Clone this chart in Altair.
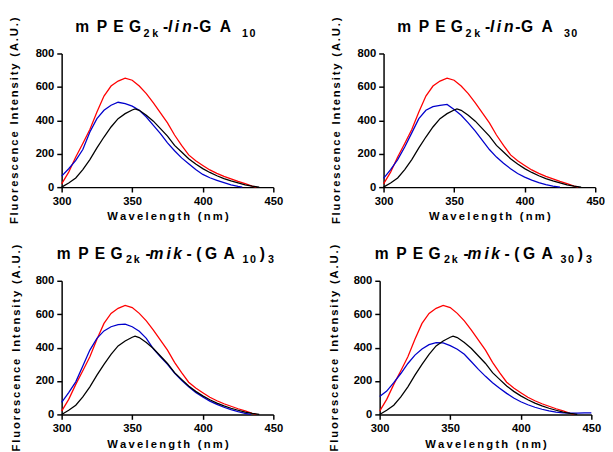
import altair as alt
import pandas as pd

# ---------------- data ----------------
RED_WL = [300, 305, 310, 315, 320, 325, 330, 335, 340, 345, 350, 355, 360, 365, 370,
          375, 380, 385, 390, 395, 400, 405, 410, 415, 420, 425, 430, 435, 438]
RED_I = [20, 90, 180, 261, 345, 450, 545, 605, 635, 652, 640, 605, 560, 505, 445,
         385, 312, 250, 193, 158, 130, 103, 82, 64, 49, 34, 21, 6, 0]

BLACK_WL = [300, 305, 310, 315, 320, 325, 330, 335, 340, 345, 350, 352, 355, 360, 365,
            370, 375, 380, 385, 390, 395, 400, 405, 410, 415, 420, 425, 430, 435, 440]
BLACK_I = [0, 25, 55, 105, 165, 235, 300, 360, 410, 440, 462, 468, 460, 430, 395,
           350, 305, 250, 210, 170, 138, 111, 88, 68, 51, 37, 25, 14, 6, 0]

BLUE1_WL = [300, 305, 310, 315, 320, 325, 330, 335, 340, 345, 350, 355, 360, 365, 370,
            375, 380, 385, 390, 395, 400, 405, 410, 415, 420, 425, 428]
BLUE1_I = [66, 110, 160, 225, 330, 410, 460, 490, 508, 500, 485, 460, 420, 370, 320,
           265, 218, 175, 140, 105, 76, 56, 41, 27, 14, 4, 0]

BLUE2_WL = [300, 305, 310, 315, 320, 325, 330, 335, 340, 345, 350, 355, 360, 365, 370,
            375, 380, 385, 390, 395, 400, 405, 410, 415, 420, 425]
BLUE2_I = [53, 105, 165, 240, 325, 410, 460, 482, 490, 495, 465, 430, 385, 335, 280,
           225, 180, 143, 110, 82, 60, 42, 27, 15, 6, 0]

BLUE3_WL = [300, 305, 310, 315, 320, 325, 330, 335, 340, 345, 350, 355, 360, 365, 370,
            375, 380, 385, 390, 395, 400, 405, 410, 415, 420, 425, 430, 434]
BLUE3_I = [72, 130, 195, 290, 385, 455, 500, 525, 538, 540, 525, 498, 455, 392, 345,
           300, 248, 205, 165, 132, 104, 80, 60, 43, 29, 17, 7, 0]

BLUE4_WL = [300, 305, 310, 315, 320, 325, 330, 335, 340, 345, 350, 355, 360, 365, 370,
            375, 380, 385, 390, 395, 400, 405, 410, 415, 420, 425, 430, 435, 440, 445, 450]
BLUE4_I = [108, 140, 190, 245, 305, 355, 392, 418, 430, 428, 412, 390, 360, 315, 270,
           228, 190, 157, 126, 98, 76, 58, 43, 31, 21, 14, 10, 8, 8, 9, 10]

X_TICKS = [300, 350, 400, 450]
Y_TICKS = [0, 200, 400, 600, 800]
X_TITLE = "Wavelength (nm)"
Y_TITLE = "Fluorescence Intensity (A.U.)"

# titles: (text, kind) pieces; each character is placed on its own
TITLE1 = [("mPEG", "main"), ("2k", "sub"), ("-", "main"), ("lin", "ital"), ("-", "main"),
          ("GA", "main"), ("10", "sub")]
TITLE2 = [("mPEG", "main"), ("2k", "sub"), ("-", "main"), ("lin", "ital"), ("-", "main"),
          ("GA", "main"), ("30", "sub")]
TITLE3 = [("mPEG", "main"), ("2k", "sub"), ("-", "main"), ("mik", "ital"), ("-", "main"),
          ("(", "main"), ("GA", "main"), ("10", "sub"), (")", "main"), ("3", "sub")]
TITLE4 = [("mPEG", "main"), ("2k", "sub"), ("-", "main"), ("mik", "ital"), ("-", "main"),
          ("(", "main"), ("GA", "main"), ("30", "sub"), (")", "main"), ("3", "sub")]

# layout: x offset of every character from the plot-area left edge
XOFF_LIN = [14, 36, 53, 69, 84, 93, 104, 109, 116, 123.5, 135, 141, 162, 185, 192.5]
XOFF_MIK = [-5, 17, 34, 50, 66, 74, 86, 90, 107.5, 114.5, 128, 138, 147, 166,
            185.5, 193, 203, 211.5]

FONT = "Liberation Sans"
W, H = 217, 137
RED, BLUE, BLACK = "#FF0000", "#0000CC", "#000000"
XSP = "\u2009"
YSP = "\u2006"


def spaced(s, sp):
    return sp.join(list(s))


def line(wl, vals, color, tpad):
    df = pd.DataFrame({"wl": wl, "i": vals})
    return alt.Chart(df).mark_line(color=color, strokeWidth=1.3).encode(
        x=alt.X("wl:Q", scale=alt.Scale(domain=[300, 450], nice=False),
                axis=alt.Axis(values=X_TICKS, title=spaced(X_TITLE, XSP), labelFlush=False,
                              labelPadding=4, titlePadding=4)),
        y=alt.Y("i:Q", scale=alt.Scale(domain=[0, 800], nice=False),
                axis=alt.Axis(values=Y_TICKS, title=spaced(Y_TITLE, YSP), labelPadding=3,
                              titlePadding=tpad)),
    )


def title_layers(pieces, xoffs, sub_y):
    chars = [(c, kind) for txt, kind in pieces for c in txt]
    out = []
    for (c, kind), xo in zip(chars, xoffs):
        main = kind in ("main", "ital")
        out.append(
            alt.Chart(pd.DataFrame({"t": [c]})).mark_text(
                align="left", baseline="alphabetic", font=FONT,
                fontSize=16 if main else 11, fontWeight="bold",
                fontStyle="italic" if kind == "ital" else "normal", color="black"
            ).encode(text="t:N", x=alt.value(xo), y=alt.value(-22 if main else sub_y))
        )
    return out


def panel(bwl, bi, pieces, xoffs, tpad, sub_y):
    layers = [line(RED_WL, RED_I, RED, tpad), line(bwl, bi, BLUE, tpad),
              line(BLACK_WL, BLACK_I, BLACK, tpad)]
    layers += title_layers(pieces, xoffs, sub_y)
    return alt.layer(*layers).properties(width=W, height=H)


p1 = panel(BLUE1_WL, BLUE1_I, TITLE1, XOFF_LIN, 16, -17)
p2 = panel(BLUE2_WL, BLUE2_I, TITLE2, XOFF_LIN, 16, -17)
p3 = panel(BLUE3_WL, BLUE3_I, TITLE3, XOFF_MIK, 14, -18)
p4 = panel(BLUE4_WL, BLUE4_I, TITLE4, XOFF_MIK, 14, -18)

chart = alt.vconcat(
    alt.hconcat(p1, p2, spacing=48),
    alt.hconcat(p3, p4, spacing=46),
    spacing=20,
).configure_view(stroke=None).configure_axis(
    grid=False, domainColor="black", domainWidth=1.5, tickColor="black", tickWidth=1.5,
    tickSize=5, labelFont=FONT, labelFontSize=11.5, labelFontWeight="bold", labelColor="black",
    titleFont=FONT, titleFontSize=11.5, titleFontWeight="bold", titleColor="black",
).properties(padding={"left": 0, "top": 3, "right": 0, "bottom": 0})

chart.save("out.html", embed_options={"renderer": "svg", "actions": False})
